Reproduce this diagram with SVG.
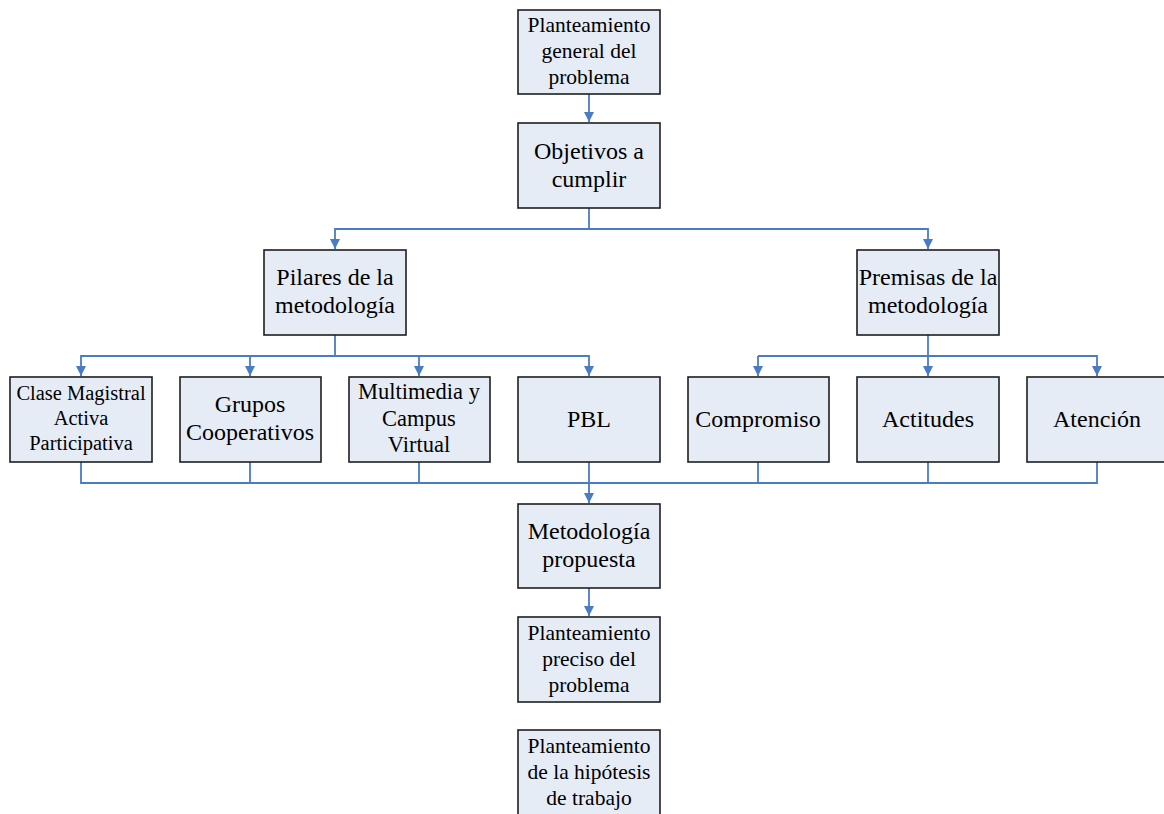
<svg xmlns="http://www.w3.org/2000/svg" width="1164" height="814" viewBox="0 0 1164 814">
  <defs>
    <marker id="arrow" viewBox="0 0 10 10" refX="10" refY="5" markerWidth="10" markerHeight="10" markerUnits="userSpaceOnUse" orient="auto">
      <path d="M0,0 L10,5 L0,10 Z" fill="#4A7CC4"/>
    </marker>
    <style>
      .box { fill: #E6ECF6; stroke: #1E1E1E; stroke-width: 1.6; }
      .lbl { font-family: "Liberation Serif", "Times New Roman", serif; fill: #000; text-anchor: middle; }
      .big { font-size: 24px; }
      .sml { font-size: 21.5px; }
      .wire { fill: none; stroke: #4A7CC4; stroke-width: 1.8; }
    </style>
  </defs>
  <rect width="1164" height="814" fill="#FFFFFF"/>

  <!-- connectors -->
  <g id="connectors">
    <path class="wire" d="M589,94 V122" marker-end="url(#arrow)"/>
    <path class="wire" d="M589,208 V229 H335 V249" marker-end="url(#arrow)"/>
    <path class="wire" d="M589,229 H928 V249" marker-end="url(#arrow)"/>
    <!-- pillars fan-out -->
    <path class="wire" d="M335,335 V356 H81 V376" marker-end="url(#arrow)"/>
    <path class="wire" d="M250,356 V376" marker-end="url(#arrow)"/>
    <path class="wire" d="M335,356 H589 V376" marker-end="url(#arrow)"/>
    <path class="wire" d="M419,356 V376" marker-end="url(#arrow)"/>
    <!-- premises fan-out -->
    <path class="wire" d="M928,335 V376" marker-end="url(#arrow)"/>
    <path class="wire" d="M758,356 H1097 V376" marker-end="url(#arrow)"/>
    <path class="wire" d="M758,356 V376" marker-end="url(#arrow)"/>
    <!-- merge into proposed methodology -->
    <path class="wire" d="M81,462 V483 H1097 V462"/>
    <path class="wire" d="M250,462 V483"/>
    <path class="wire" d="M419,462 V483"/>
    <path class="wire" d="M758,462 V483"/>
    <path class="wire" d="M928,462 V483"/>
    <path class="wire" d="M589,462 V503" marker-end="url(#arrow)"/>
    <path class="wire" d="M589,588 V616" marker-end="url(#arrow)"/>
  </g>

  <g id="planteamiento-general">
    <rect class="box" x="518" y="10" width="142" height="84"/>
    <text class="lbl sml" x="589" y="32">Planteamiento</text>
    <text class="lbl sml" x="589" y="58">general del</text>
    <text class="lbl sml" x="589" y="84">problema</text>
  </g>

  <g id="objetivos">
    <rect class="box" x="518" y="123" width="142" height="85"/>
    <text class="lbl big" x="589" y="159">Objetivos a</text>
    <text class="lbl big" x="589" y="187">cumplir</text>
  </g>

  <g id="pilares">
    <rect class="box" x="264" y="250" width="142" height="85"/>
    <text class="lbl big" x="335" y="285">Pilares de la</text>
    <text class="lbl big" x="335" y="313">metodología</text>
  </g>

  <g id="premisas">
    <rect class="box" x="857" y="250" width="142" height="85"/>
    <text class="lbl big" x="928" y="285">Premisas de la</text>
    <text class="lbl big" x="928" y="313">metodología</text>
  </g>

  <g id="clase-magistral">
    <rect class="box" x="10" y="377" width="142" height="85"/>
    <text class="lbl" font-size="20.5" x="81" y="400">Clase Magistral</text>
    <text class="lbl" font-size="20.5" x="81" y="425">Activa</text>
    <text class="lbl" font-size="20.5" x="81" y="450">Participativa</text>
  </g>

  <g id="grupos">
    <rect class="box" x="180" y="377" width="141" height="85"/>
    <text class="lbl big" x="250" y="412">Grupos</text>
    <text class="lbl big" x="250" y="440">Cooperativos</text>
  </g>

  <g id="multimedia">
    <rect class="box" x="349" y="377" width="141" height="85"/>
    <text class="lbl" font-size="22.5" x="419" y="399">Multimedia y</text>
    <text class="lbl" font-size="22.5" x="419" y="426">Campus</text>
    <text class="lbl" font-size="22.5" x="419" y="452">Virtual</text>
  </g>

  <g id="pbl">
    <rect class="box" x="518" y="377" width="142" height="85"/>
    <text class="lbl big" x="589" y="427">PBL</text>
  </g>

  <g id="compromiso">
    <rect class="box" x="688" y="377" width="141" height="85"/>
    <text class="lbl big" x="758" y="427">Compromiso</text>
  </g>

  <g id="actitudes">
    <rect class="box" x="857" y="377" width="142" height="85"/>
    <text class="lbl big" x="928" y="427">Actitudes</text>
  </g>

  <g id="atencion">
    <rect class="box" x="1027" y="377" width="142" height="85"/>
    <text class="lbl big" x="1097" y="427">Atención</text>
  </g>

  <g id="metodologia-propuesta">
    <rect class="box" x="518" y="504" width="142" height="84"/>
    <text class="lbl big" x="589" y="539">Metodología</text>
    <text class="lbl big" x="589" y="567">propuesta</text>
  </g>

  <g id="planteamiento-preciso">
    <rect class="box" x="518" y="617" width="142" height="85"/>
    <text class="lbl sml" x="589" y="640">Planteamiento</text>
    <text class="lbl sml" x="589" y="666">preciso del</text>
    <text class="lbl sml" x="589" y="692">problema</text>
  </g>

  <g id="hipotesis">
    <rect class="box" x="518" y="730" width="142" height="100"/>
    <text class="lbl sml" x="589" y="753">Planteamiento</text>
    <text class="lbl sml" x="589" y="779">de la hipótesis</text>
    <text class="lbl sml" x="589" y="805">de trabajo</text>
  </g>
</svg>
